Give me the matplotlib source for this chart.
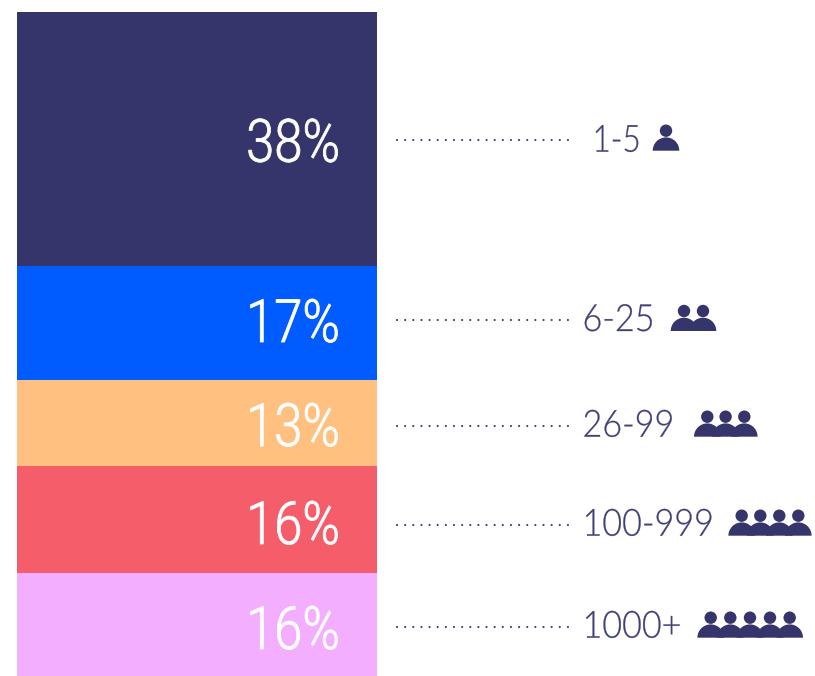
import matplotlib
matplotlib.use("Agg")
import matplotlib.pyplot as plt
from matplotlib.patches import Circle, Wedge
from matplotlib.patheffects import AbstractPathEffect
from matplotlib.transforms import Affine2D
from matplotlib import font_manager as fm
import os

plt.rcParams['lines.scale_dashes'] = False

# Data
size_labels = ['1-5', '6-25', '26-99', '100-999', '1000+']
share_labels = ['38%', '17%', '13%', '16%', '16%']
bar_heights = [38.2, 17.2, 13.0, 16.1, 15.5]
bar_colors = ['#36356B', '#005CFF', '#FFC080', '#F65D6A', '#F4AEFF']
TEXT = '#3F4076'
NAVY = '#36356B'


def font_file(family, key):
    for f in fm.fontManager.ttflist:
        base = os.path.basename(f.fname).lower()
        if f.name == family and key in base and 'italic' not in base:
            return fm.FontProperties(fname=f.fname)
    return fm.FontProperties(family=family)


class Squeeze(AbstractPathEffect):
    """Scale text horizontally about a display-space anchor, with optional thickening."""

    def __init__(self, sx, x0, stroke=0):
        super().__init__()
        self.sx, self.x0, self.stroke = sx, x0, stroke

    def draw_path(self, renderer, gc, tpath, affine, rgbFace=None):
        t = affine + Affine2D().translate(-self.x0, 0).scale(self.sx, 1).translate(self.x0, 0)
        g = renderer.new_gc()
        g.copy_properties(gc)
        if self.stroke:
            g.set_foreground(rgbFace)
            g.set_linewidth(self.stroke)
        else:
            g.set_linewidth(0)
        renderer.draw_path(g, tpath, t, rgbFace)
        g.restore()


W, H = 815, 676
fig = plt.figure(figsize=(W / 100, H / 100), dpi=100, facecolor='white')

# Stacked bar in percent units
bar_ax = fig.add_axes([17 / W, 0, 360 / W, (H - 12) / H])
bar_ax.set_xlim(0, 1)
bar_ax.set_ylim(100, 0)
bar_ax.axis('off')
bottom = 0
for h, c in zip(bar_heights, bar_colors):
    bar_ax.bar(0.5, h, width=1, bottom=bottom, color=c, linewidth=0)
    bottom += h

# Overlay in pixel units for annotations
ax = fig.add_axes([0, 0, 1, 1], facecolor='none')
ax.set_xlim(0, W)
ax.set_ylim(H, 0)
ax.axis('off')

pct_base = [161.7, 342, 446, 544, 649]
dot_y = [140, 320, 426, 525, 627]
lab_x = [592.5, 582.5, 582.5, 582.5, 582.5]
lab_sx = [0.84, 0.91, 0.91, 0.91, 0.91]
lab_base = [151.7, 331, 436.7, 535.7, 637.7]
head_xs = [
    [666],
    [684, 703],
    [707.3, 725.6, 744.3],
    [741.7, 760.3, 779.3, 798.3],
    [710.7, 730.3, 750, 770, 789.7],
]

pct_fp = font_file('Roboto', 'light')
pct_fp.set_size(43)
lab_fp = font_file('Lato', 'lato-light')
lab_fp.set_size(27)

for i in range(5):
    ax.text(340, pct_base[i], share_labels[i], color='white', ha='right', va='baseline',
            fontproperties=pct_fp, path_effects=[Squeeze(0.85, 340, 0.6)])
    ax.plot([397, 569], [dot_y[i]] * 2, color=TEXT, lw=1.6,
            linestyle=(0, (0.01, 5.85)), dash_capstyle='round')
    ax.text(lab_x[i], lab_base[i], size_labels[i], color=TEXT, ha='left', va='baseline',
            fontproperties=lab_fp, path_effects=[Squeeze(lab_sx[i], lab_x[i], 0.2)])
    b = lab_base[i] - 1 if i == 0 else lab_base[i]
    for x in head_xs[i]:
        ax.add_patch(Circle((x, b - 20), 6.2, color=NAVY, lw=0))
        ax.add_patch(Wedge((x, b), 13.3, 180, 360, color=NAVY, lw=0))

fig.savefig('out.png', dpi=100)
